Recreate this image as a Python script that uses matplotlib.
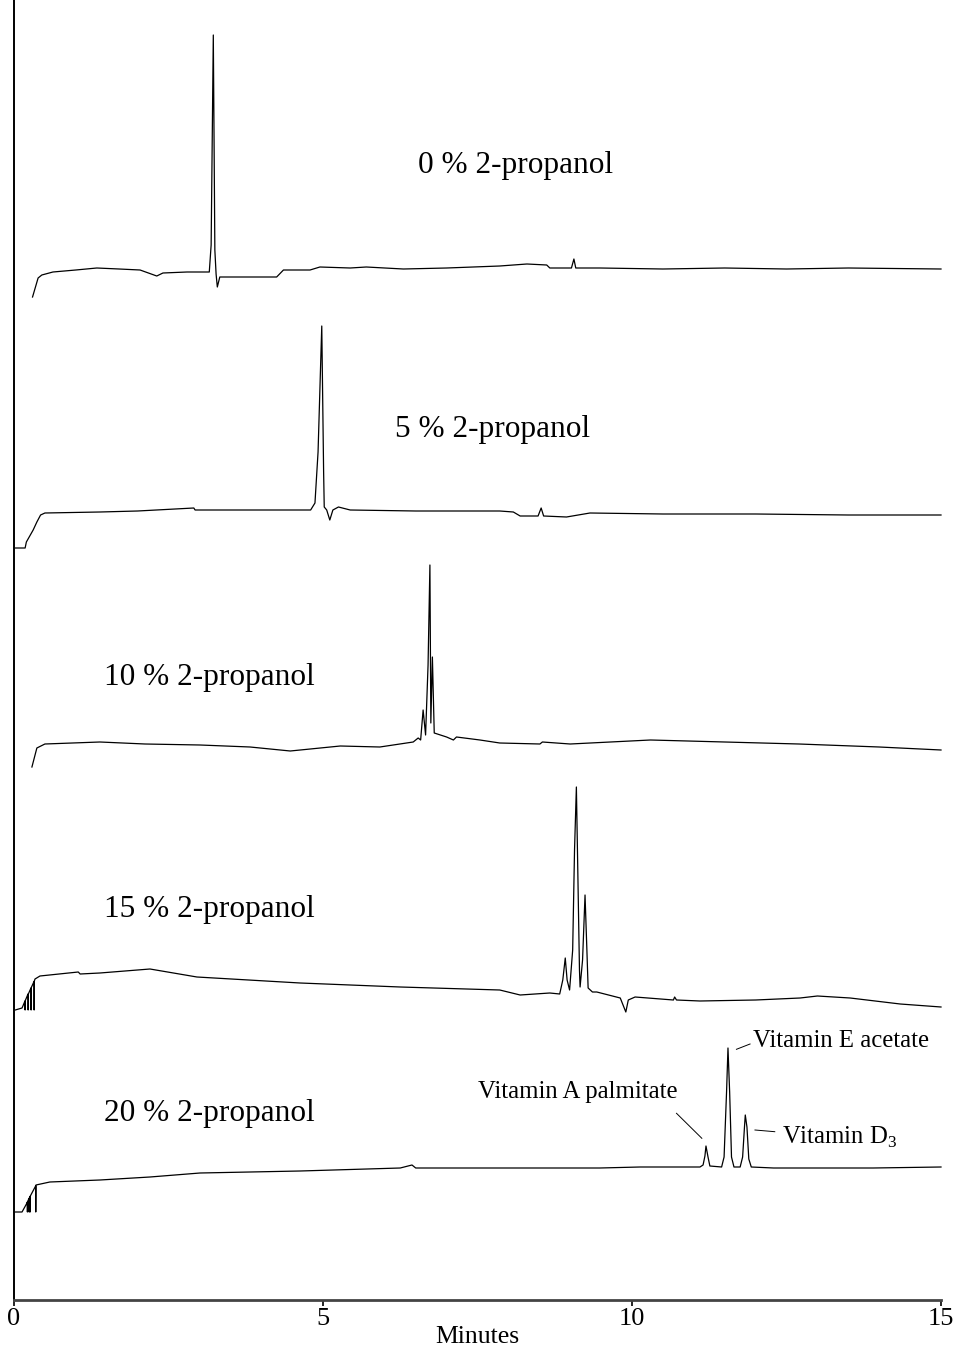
import matplotlib
matplotlib.use("Agg")
import matplotlib.pyplot as plt

plt.rcParams["font.family"] = ["Liberation Serif", "DejaVu Serif"]
plt.rcParams["mathtext.fontset"] = "custom"
plt.rcParams["mathtext.rm"] = "Liberation Serif"

# Chromatograms: retention time (min) and detector response (a.u.),
# each trace relative to its own baseline offset.
t_0 = [0.30, 0.39, 0.45, 0.63, 1.00, 1.34, 1.70, 2.04, 2.31, 2.41, 2.80, 3.12,
       3.16, 3.19, 3.225, 3.25, 3.27, 3.29, 3.33, 3.54, 3.90, 4.25, 4.36, 4.79,
       4.95, 5.44, 5.70, 6.30, 7.00, 7.86, 8.30, 8.62, 8.67, 9.02, 9.06, 9.09,
       9.48, 10.5, 11.5, 12.5, 13.5, 15.0]
r_0 = [-27, -8, -5, -2, 0, 2, 1, 0, -6, -3, -2, -2,
       -2, 25, 235, 20, -4, -17, -7, -7, -7, -7, 0, 0,
       3, 2, 3, 1, 2, 4, 6, 5, 2, 2, 11, 2,
       2, 1, 2, 1, 2, 1]

t_5 = [0.02, 0.18, 0.20, 0.31, 0.37, 0.43, 0.50, 1.39, 2.00, 2.91, 2.93, 3.01,
       3.80, 4.80, 4.87, 4.92, 4.98, 5.01, 5.02, 5.06, 5.11, 5.16, 5.25, 5.44,
       6.50, 7.86, 8.08, 8.19, 8.48, 8.53, 8.57, 8.94, 9.32, 10.5, 12.0, 13.5,
       15.0]
r_5 = [-36, -36, -30, -18, -10, -3, -1, 0, 1, 4, 2, 2,
       2, 2, 9, 60, 186, 40, 5, 2, -8, 2, 5, 2,
       1, 1, 0, -4, -4, 4, -4, -5, -1, -2, -2, -3,
       -3]

t_10 = [0.29, 0.37, 0.50, 1.39, 2.12, 3.01, 3.82, 4.47, 5.28, 5.92, 6.46, 6.54,
        6.58, 6.62, 6.66, 6.70, 6.73, 6.745, 6.77, 6.80, 7.00, 7.11, 7.16, 7.54,
        7.86, 8.51, 8.55, 9.00, 10.3, 11.5, 12.7, 14.0, 15.0]
r_10 = [-22, -3, 1, 3, 1, 0, -2, -6, -1, -2, 3, 7,
        5, 35, 10, 80, 180, 22, 88, 12, 8, 5, 8, 5,
        2, 1, 3, 1, 5, 3, 1, -2, -5]

t_15 = [0.02, 0.13, 0.178, 0.180, 0.183, 0.227, 0.229, 0.232, 0.275, 0.277,
        0.280, 0.324, 0.326, 0.329, 0.34, 0.42, 1.04, 1.07, 1.39, 2.20, 2.96,
        4.63, 6.25, 7.86, 8.19, 8.67, 8.83, 8.88, 8.92, 8.95, 8.99, 9.04, 9.07,
        9.10, 9.12, 9.15, 9.16, 9.20, 9.24, 9.27, 9.29, 9.36, 9.43, 9.81, 9.90,
        9.94, 10.05, 10.67, 10.69, 10.72, 11.1, 12.0, 12.72, 13.0, 13.53, 14.34,
        15.0]
r_15 = [0, 2, 9, 0, 9.5, 16, 0, 16, 22, 0,
        22.5, 28.5, 0, 29, 31, 34, 38, 36, 37, 41, 33,
        27, 23, 20, 15, 17, 16, 30, 52, 30, 20, 60, 160,
        223, 150, 40, 23, 50, 115, 60, 22, 18, 18, 12, -2,
        10, 13, 10, 13, 10, 9, 10, 12, 14, 12, 6,
        3]

t_20 = [0.00, 0.13, 0.21, 0.215, 0.217, 0.220, 0.243, 0.245, 0.248, 0.259,
        0.261, 0.264, 0.350, 0.352, 0.356, 0.58, 1.39, 2.20, 3.01, 4.63, 6.25,
        6.44, 6.50, 7.86, 9.48, 10.13, 10.94, 11.10, 11.15, 11.18, 11.197,
        11.23, 11.26, 11.45, 11.49, 11.53, 11.553, 11.58, 11.61, 11.65, 11.75,
        11.79, 11.82, 11.833, 11.86, 11.89, 11.93, 12.29, 13.9, 15.0]
r_20 = [0, 0, 9, 10, 0, 10.5, 13.5, 0, 14, 15.5,
        0, 16, 26, 0, 27, 30, 32, 35, 39, 41, 44,
        47, 44, 44, 44, 45, 45, 45, 47, 56, 66,
        55, 46, 45, 55, 120, 164, 120, 55, 45, 45,
        55, 85, 97, 85, 53, 45, 44, 44, 45]

times = [t_0, t_5, t_10, t_15, t_20]
responses = [r_0, r_5, r_10, r_15, r_20]
offsets = [1030, 788, 555, 290, 88]
labels = ["0 % 2-propanol", "5 % 2-propanol", "10 % 2-propanol",
          "15 % 2-propanol", "20 % 2-propanol"]
label_pos = [(6.54, 1135), (6.17, 871), (1.46, 623), (1.46, 390), (1.46, 187)]

# Peak names in the 20 % run: text anchor and leader line (time, response)
peak_names = ["Vitamin E acetate", r"Vitamin D$_\mathrm{3}$", "Vitamin A palmitate"]
peak_text = [(11.96, 171), (12.42, 75), (10.74, 120)]
peak_align = ["left", "left", "right"]
leader_t = [(11.69, 11.91), (11.99, 12.31), (10.72, 11.13)]
leader_r = [(162.7, 168), (82, 80.3), (98.7, 73.7)]

xticks = [0, 5, 10, 15]

fig = plt.figure(figsize=(9.54, 13.48), dpi=100)
ax = fig.add_axes([14 / 954, 48 / 1348, 927 / 954, 1300 / 1348])

for t, r, off in zip(times, responses, offsets):
    ax.plot(t, [v + off for v in r], color="black", lw=0.9, clip_on=False)

for text, (x, y) in zip(labels, label_pos):
    ax.text(x, y, text, fontsize=22.5, ha="left", va="center")

base20 = offsets[4]
for name, (x, y), ha, lt, lr in zip(peak_names, peak_text, peak_align,
                                    leader_t, leader_r):
    ax.plot(lt, [v + base20 for v in lr], color="black", lw=0.7)
    ax.text(x, y + base20, name, fontsize=17.8, ha=ha, va="center")

ax.set_xlim(0, 15)
ax.set_ylim(0, 1300)
ax.set_xticks(xticks)
ax.set_xticklabels([str(v) for v in xticks])
ax.set_yticks([])
ax.tick_params(axis="x", direction="out", length=4, width=1.2, pad=2,
               labelsize=19, colors="black")
ax.set_xlabel("Minutes", fontsize=18.5, labelpad=-3)

for side in ("top", "right"):
    ax.spines[side].set_visible(False)
ax.spines["left"].set_linewidth(1.4)
ax.spines["left"].set_color("black")
ax.spines["bottom"].set_linewidth(2.0)
ax.spines["bottom"].set_color("#444444")

fig.savefig("out.png", dpi=100)
